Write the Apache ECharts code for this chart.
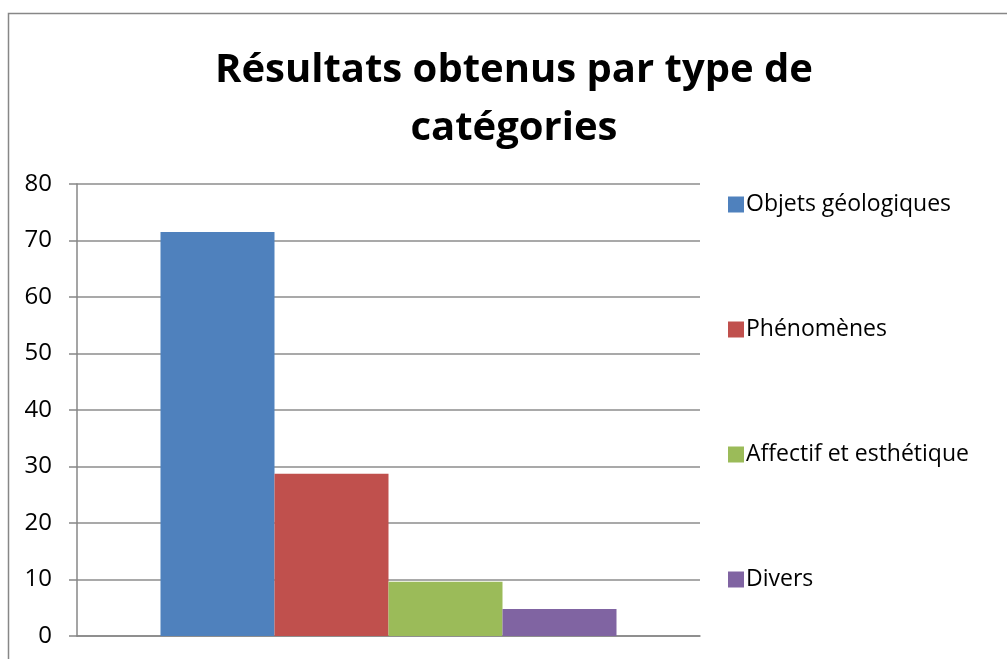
<!DOCTYPE html>
<html>
<head>
<meta charset="utf-8">
<script src="https://cdn.jsdelivr.net/npm/echarts@6/dist/echarts.min.js"></script>
<style>
  html, body { margin: 0; padding: 0; background: #ffffff; }
  #chart { width: 1007px; height: 659px; }
</style>
</head>
<body>
<div id="chart"></div>
<script>
// données
const categories = [""];
const seriesNames = ["Objets géologiques", "Phénomènes", "Affectif et esthétique", "Divers"];
const seriesValues = [71.5, 28.7, 9.6, 4.8];
const seriesColors = ["#4f81bd", "#c0504d", "#9bbb59", "#8064a2"];
const yTicks = { min: 0, max: 80, interval: 10 };

const font = "Open Sans";
const chart = echarts.init(document.getElementById("chart"));

const option = {
  backgroundColor: "#ffffff",
  animation: false,
  graphic: [
    {
      // cadre du graphique
      type: "rect",
      shape: { x: 8.5, y: 13.5, width: 1200, height: 800 },
      style: { fill: "none", stroke: "#878787", lineWidth: 1.5 },
      silent: true
    }
  ],
  title: {
    text: "Résultats obtenus par type de\ncatégories",
    left: 514,
    textAlign: "center",
    top: 42,
    padding: 0,
    textStyle: {
      fontFamily: font,
      fontWeight: "bold",
      fontSize: 40,
      lineHeight: 58,
      color: "#000000"
    }
  },
  legend: {
    orient: "vertical",
    left: 723,
    top: 188,
    itemWidth: 16,
    itemHeight: 16,
    itemGap: 102,
    icon: "rect",
    textStyle: { fontFamily: font, fontSize: 23, color: "#000000", padding: [0, 0, 0, -3] },
    data: seriesNames
  },
  grid: { left: 77, right: 307, top: 184, bottom: 23 },
  xAxis: {
    type: "category",
    data: categories,
    axisLine: { lineStyle: { color: "#878787", width: 1.5 } },
    axisTick: { show: false },
    axisLabel: { show: false }
  },
  yAxis: {
    type: "value",
    min: yTicks.min,
    max: yTicks.max,
    interval: yTicks.interval,
    axisLine: { show: true, lineStyle: { color: "#878787", width: 1.5 } },
    axisTick: { show: true, length: 8, lineStyle: { color: "#878787", width: 1.5 } },
    axisLabel: { fontFamily: font, fontSize: 24, color: "#000000", margin: 25 },
    splitLine: { lineStyle: { color: "#8c8c8c", width: 1.5 } }
  },
  series: seriesNames.map((name, i) => ({
    name: name,
    type: "bar",
    barWidth: 114,
    barGap: "0%",
    itemStyle: { color: seriesColors[i] },
    data: [seriesValues[i]]
  }))
};

chart.setOption(option);
</script>
</body>
</html>
